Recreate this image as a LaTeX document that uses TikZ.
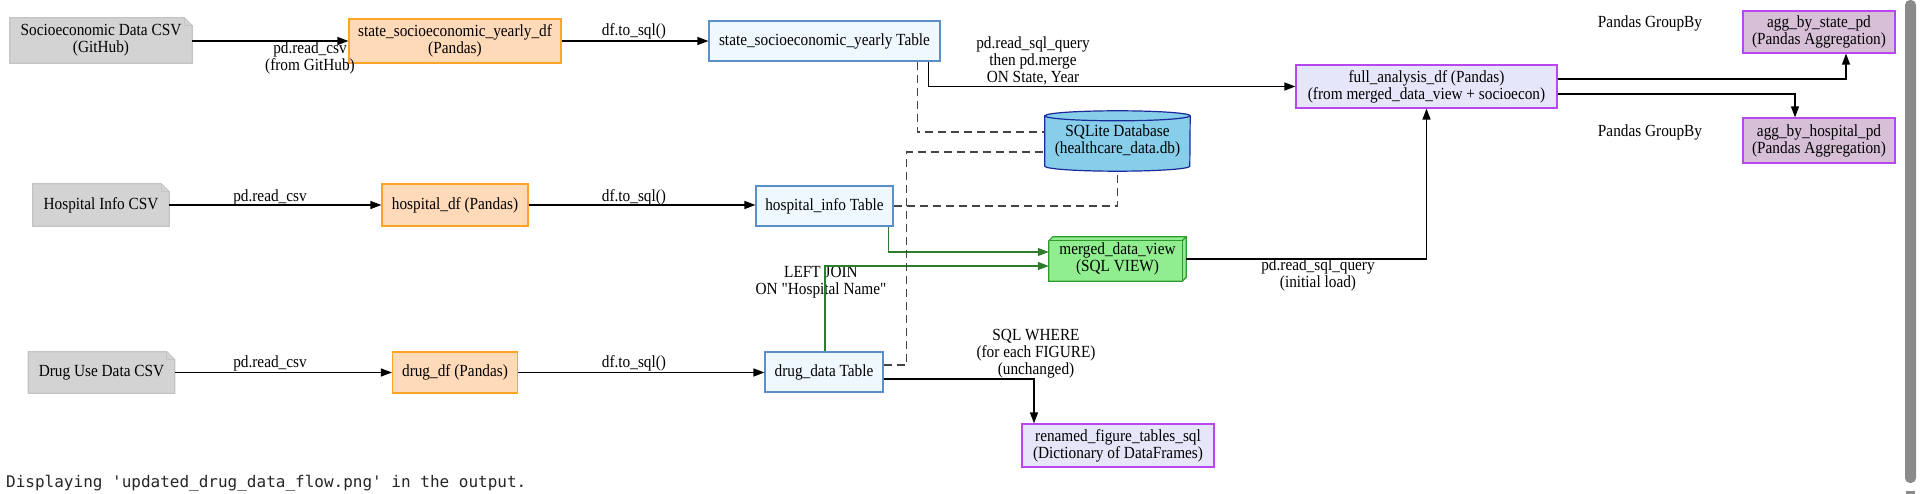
\documentclass[tikz,border=0pt]{standalone}
\usepackage{fontspec}
\setmainfont{Liberation Serif}[FakeStretch=0.9]
\newfontfamily\qfont{Liberation Serif}[FakeStretch=0.9, Ligatures=TeXOff]
\setmonofont{DejaVu Sans Mono}
\usetikzlibrary{arrows.meta,backgrounds,calc}
\definecolor{csvfill}{HTML}{D3D3D3}
\definecolor{csvdraw}{HTML}{C4C4C4}
\definecolor{dffill}{HTML}{FFDAB9}
\definecolor{dfdraw}{HTML}{FFA424}
\definecolor{tbfill}{HTML}{F0F8FF}
\definecolor{tbdraw}{HTML}{5B8FC7}
\definecolor{dbfill}{HTML}{87CEEB}
\definecolor{dbdraw}{HTML}{1A2A9A}
\definecolor{mvfill}{HTML}{90EE90}
\definecolor{mvdraw}{HTML}{2E9A2E}
\definecolor{lavfill}{HTML}{E6E6FA}
\definecolor{purpdraw}{HTML}{B847F0}
\definecolor{thfill}{HTML}{D8BFD8}
\definecolor{greenedge}{HTML}{2E7D2E}
\definecolor{dashc}{HTML}{444444}
\definecolor{scrollc}{HTML}{8A8A8A}
\newcommand\notebox[1]{%
  \filldraw[csvbox] (#1.north west) -- ($(#1.north east)+(-8,0)$) -- ($(#1.north east)+(0,8)$) -- (#1.south east) -- (#1.south west) -- cycle;
  \draw[csvbox] ($(#1.north east)+(-8,0)$) -- ($(#1.north east)+(-8,8)$) -- ($(#1.north east)+(0,8)$);}
\begin{document}
\begin{tikzpicture}[x=1pt,y=-1pt,
  every node/.style={font=\fontsize{17}{17}\selectfont, align=center, inner sep=0pt, text=black},
  csvbox/.style={fill=csvfill, draw=csvdraw, line width=1.2pt},
  dfbox/.style={draw=dfdraw, fill=dffill, line width=1.2pt},
  tbbox/.style={draw=tbdraw, fill=tbfill, line width=1.2pt},
  favbox/.style={draw=purpdraw, fill=lavfill, line width=1.2pt},
  agbox/.style={draw=purpdraw, fill=thfill, line width=1.2pt},
  dbshape/.style={draw=dbdraw, fill=dbfill, line width=1.2pt},
  mvshape/.style={draw=mvdraw, fill=mvfill, line width=1.2pt},
  flow/.style={line width=1.3pt, black, -{Triangle[length=11pt,width=8pt]}},
  gflow/.style={line width=1.3pt, greenedge, -{Triangle[length=11pt,width=8pt]}},
  dashlink/.style={line width=1.3pt, dashc, dash pattern=on 8pt off 5pt},
  lbl/.style={}
]
\useasboundingbox (0,0) rectangle (1920,494);

% source CSV nodes (note shape drawn on background)
\node[minimum width=182pt, minimum height=45pt] (csv1) at (101,40.5) {Socioeconomic Data CSV\\(GitHub)};
\node[minimum width=136pt, minimum height=42pt] (csv2) at (101,205) {Hospital Info CSV};
\node[minimum width=146pt, minimum height=41pt] (csv3) at (101.5,372.5) {Drug Use Data CSV};

% pandas frames
\node[dfbox, minimum width=212pt, minimum height=44pt] (df1) at (455,41) {state\_socioeconomic\_yearly\_df\\(Pandas)};
\node[dfbox, minimum width=146pt, minimum height=42pt] (df2) at (455,205) {hospital\_df (Pandas)};
\node[dfbox, minimum width=125pt, minimum height=41pt] (df3) at (455,372.5) {drug\_df (Pandas)};

% SQL tables
\node[tbbox, minimum width=231pt, minimum height=40pt] (t1) at (824.5,41) {state\_socioeconomic\_yearly Table};
\node[tbbox, minimum width=137pt, minimum height=40pt] (t2) at (824.5,206) {hospital\_info Table};
\node[tbbox, minimum width=118pt, minimum height=40pt] (t3) at (824,372) {drug\_data Table};

% database and view
\node[minimum width=145pt, minimum height=60pt] (db) at (1117.5,141) {SQLite Database\\(healthcare\_data.db)};
\node[minimum width=137pt, minimum height=44pt] (mv) at (1117.5,259) {merged\_data\_view\\(SQL VIEW)};

% analysis nodes
\node[favbox, minimum width=261pt, minimum height=43pt] (fa) at (1426.5,86.5) {full\_analysis\_df (Pandas)\\(from merged\_data\_view + socioecon)};
\node[agbox, minimum width=152pt, minimum height=42pt] (ag1) at (1819,32) {agg\_by\_state\_pd\\(Pandas Aggregation)};
\node[agbox, minimum width=152pt, minimum height=45pt] (ag2) at (1819,140.5) {agg\_by\_hospital\_pd\\(Pandas Aggregation)};
\node[favbox, minimum width=192pt, minimum height=43pt] (rn) at (1118,445.5) {renamed\_figure\_tables\_sql\\(Dictionary of DataFrames)};

\begin{scope}[on background layer]
  \fill[white] (0,0) rectangle (1920,494);
  \notebox{csv1}
  \notebox{csv2}
  \notebox{csv3}
  % cylinder
  \filldraw[dbshape] ($(db.north west)+(0,5)$) -- ($(db.south west)+(0,-5)$)
     arc[start angle=180, end angle=360, x radius=72.5pt, y radius=5pt]
     -- ($(db.north east)+(0,5)$)
     arc[start angle=0, end angle=180, x radius=72.5pt, y radius=5pt] -- cycle;
  \draw[dbshape, fill=none] ($(db.north west)+(0,5)$) arc[start angle=180, end angle=360, x radius=72.5pt, y radius=5pt];
  % box3d
  \filldraw[mvshape] (mv.south west) -- ($(mv.north west)+(0,4)$) -- ($(mv.north west)+(4,0)$) -- (mv.north east) -- ($(mv.south east)+(0,-4)$) -- ($(mv.south east)+(-4,0)$) -- cycle;
  \draw[mvshape, fill=none] ($(mv.north west)+(0,4)$) -- ($(mv.north east)+(-4,4)$) -- ($(mv.south east)+(-4,0)$);
  \draw[mvshape, fill=none] ($(mv.north east)+(-4,4)$) -- (mv.north east);
\end{scope}

% edge labels
\node[lbl] (l1) at (310,58) {pd.read\_csv\\(from GitHub)};
\node[lbl] (l2) at (634,31) {df.to\_sql()};
\node[lbl] (l3) at (270,197) {pd.read\_csv};
\node[lbl] (l4) at (634,197) {df.to\_sql()};
\node[lbl] (l5) at (270,363) {pd.read\_csv};
\node[lbl] (l6) at (634,363) {df.to\_sql()};
\node[lbl] (l7) at (1033,61) {pd.read\_sql\_query\\then pd.merge\\ON State, Year};
\node[lbl] (l8) at (1318,274.5) {pd.read\_sql\_query\\(initial load)};
\node[lbl] (l9) at (1650,23) {Pandas GroupBy};
\node[lbl] (l10) at (1650,132) {Pandas GroupBy};
\node[lbl] (l11) at (821,282) {LEFT JOIN\\{\qfont ON "Hospital Name"}};
\node[lbl] (l12) at (1036,353.5) {SQL WHERE\\(for each FIGURE)\\(unchanged)};

% flows
\draw[flow] (csv1.east |- df1.west) -- (df1.west);
\draw[flow] (df1.east) -- (t1.west);
\draw[flow] (csv2.east) -- (csv2.east -| df2.west);
\draw[flow] (df2.east) -- (df2.east -| t2.west);
\draw[flow] (csv3.east) -- (csv3.east -| df3.west);
\draw[flow] (df3.east) -- (df3.east -| t3.west);
\draw[flow] ($(t1.south east)+(-12,0)$) |- (fa.west);
\draw[flow] (mv.east) -| (fa.south);
\draw[flow] ($(fa.east)+(0,-7.5)$) -| ($(ag1.south)+(27,0)$);
\draw[flow] ($(fa.east)+(0,7.5)$) -| ($(ag2.north)+(-24,0)$);
\draw[flow] ($(t3.east)+(0,7)$) -| ($(rn.north)+(-84,0)$);
\draw[gflow] ($(t2.south east)+(-5,0)$) |- ($(mv.west)+(0,-7)$);
\draw[gflow] ($(t3.north)+(1,0)$) |- ($(mv.west)+(0,7)$);

% storage links
\draw[dashlink] ($(t1.south east)+(-23,0)$) |- ($(db.west)+(0,-9)$);
\draw[dashlink] (t2.east) -| (db.south);
\draw[dashlink] ($(t3.east)+(0,-7)$) -- ++(23,0) |- ($(db.west)+(0,11)$);

% notebook caption and scrollbar
\node[anchor=west, font=\ttfamily\fontsize{16}{16}\selectfont, text=black!85] (cap) at (6,483) {Displaying 'updated\_drug\_data\_flow.png' in the output.};
\fill[scrollc, rounded corners=5pt] (1905,0) rectangle (1916,483);
\fill[scrollc] (1906,491) rectangle (1915,494);
\end{tikzpicture}
\end{document}
